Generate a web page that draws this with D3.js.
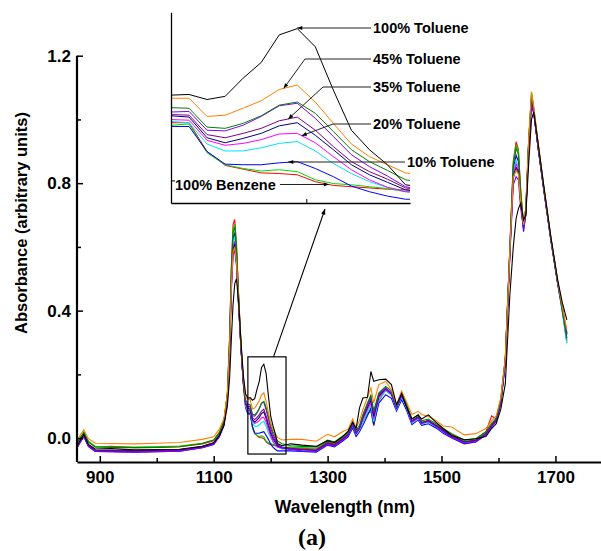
<!DOCTYPE html>
<html>
<head>
<meta charset="utf-8">
<script src="https://cdn.jsdelivr.net/npm/d3@7"></script>
<style>
body { margin: 0; background: #fff; }
svg text { font-family: "Liberation Sans", Arial, sans-serif; font-weight: bold; }
</style>
</head>
<body>
<div id="chart"></div>
<script>
// wavelengths (nm), shared by every spectrum
const wavelengths = [
    860, 866, 872, 880, 892, 920, 960, 1000, 1040, 1080,
    1100, 1110, 1118, 1124, 1128, 1131, 1134, 1137, 1140, 1144, 1148, 1152, 1156,
    1160, 1164, 1168, 1172, 1176, 1180, 1184, 1188, 1192, 1196, 1200, 1204, 1208, 1212,
    1220, 1235, 1255, 1280, 1300, 1312, 1326,
    1336, 1344, 1350, 1356, 1362, 1370, 1376, 1381, 1390, 1402, 1412, 1421, 1430, 1438, 1448, 1459, 1465, 1477, 1490, 1503, 1518,
    1540, 1560, 1578, 1588, 1596, 1604, 1612, 1620, 1626, 1631, 1635, 1639, 1644, 1648, 1653, 1658, 1662, 1670, 1680, 1692, 1704, 1712, 1720
];

// absorbance of each mixture
const benzene100 = [
    -0.018, 0.000, 0.016, -0.012, -0.028, -0.026, -0.030, -0.029, -0.027, -0.018,
    -0.008, 0.016, 0.052, 0.140, 0.320, 0.540, 0.670, 0.686, 0.610, 0.440, 0.290, 0.175, 0.105,
    0.082, 0.082, 0.036, 0.014, 0.008, 0.002, 0.001, -0.001, -0.012, -0.018, -0.020, -0.022, -0.024, -0.025,
    -0.030, -0.030, -0.032, -0.034, -0.012, -0.018, 0.000,
    0.015, 0.046, 0.018, 0.028, 0.052, 0.075, 0.085, 0.038, 0.118, 0.150, 0.135, 0.092, 0.138, 0.100, 0.050, 0.064, 0.046, 0.052, 0.040, 0.028, 0.012,
    -0.010, -0.004, 0.020, 0.070, 0.060, 0.120, 0.250, 0.600, 0.870, 0.930, 0.905, 0.780, 0.670, 0.720, 0.930, 1.075, 1.030, 0.915, 0.780, 0.628, 0.490, 0.410, 0.330
];
const toluene05 = [
    -0.016, 0.002, 0.018, -0.010, -0.026, -0.028, -0.028, -0.027, -0.025, -0.016,
    -0.006, 0.018, 0.054, 0.140, 0.315, 0.530, 0.655, 0.672, 0.600, 0.435, 0.288, 0.175, 0.105,
    0.078, 0.080, 0.034, 0.015, 0.009, 0.005, 0.007, 0.004, -0.009, -0.015, -0.017, -0.020, -0.023, -0.028,
    -0.030, -0.028, -0.030, -0.032, -0.010, -0.016, 0.002,
    0.017, 0.048, 0.020, 0.030, 0.054, 0.078, 0.088, 0.040, 0.120, 0.152, 0.138, 0.095, 0.142, 0.104, 0.054, 0.066, 0.048, 0.054, 0.040, 0.026, 0.010,
    -0.008, -0.004, 0.018, 0.044, 0.060, 0.118, 0.248, 0.598, 0.862, 0.920, 0.898, 0.775, 0.668, 0.720, 0.935, 1.087, 1.035, 0.918, 0.782, 0.628, 0.488, 0.400, 0.300
];
const toluene10 = [
    -0.030, -0.012, 0.004, -0.026, -0.042, -0.043, -0.044, -0.043, -0.041, -0.030,
    -0.020, 0.004, 0.040, 0.125, 0.300, 0.505, 0.628, 0.645, 0.578, 0.420, 0.280, 0.168, 0.095,
    0.076, 0.076, 0.036, 0.016, 0.015, 0.015, 0.018, 0.020, 0.009, -0.004, -0.019, -0.028, -0.035, -0.040,
    -0.040, -0.040, -0.042, -0.044, -0.022, -0.028, -0.010,
    0.004, 0.032, 0.005, 0.020, 0.040, 0.070, 0.095, 0.042, 0.110, 0.136, 0.125, 0.085, 0.120, 0.090, 0.042, 0.057, 0.040, 0.045, 0.032, 0.015, 0.000,
    -0.018, -0.012, 0.010, 0.036, 0.052, 0.110, 0.242, 0.590, 0.845, 0.888, 0.868, 0.750, 0.648, 0.700, 0.920, 1.060, 1.020, 0.905, 0.772, 0.620, 0.482, 0.400, 0.305
];
const toluene15 = [
    -0.026, -0.008, 0.008, -0.022, -0.038, -0.040, -0.040, -0.040, -0.038, -0.027,
    -0.016, 0.008, 0.044, 0.128, 0.298, 0.498, 0.615, 0.632, 0.568, 0.415, 0.280, 0.172, 0.100,
    0.084, 0.082, 0.048, 0.037, 0.037, 0.042, 0.049, 0.052, 0.037, 0.017, 0.001, -0.012, -0.021, -0.027,
    -0.034, -0.036, -0.038, -0.040, -0.018, -0.024, -0.006,
    0.008, 0.038, 0.012, 0.026, 0.052, 0.082, 0.102, 0.052, 0.122, 0.148, 0.134, 0.090, 0.128, 0.098, 0.048, 0.062, 0.045, 0.050, 0.036, 0.020, 0.004,
    -0.014, -0.010, 0.012, 0.038, 0.054, 0.112, 0.244, 0.590, 0.838, 0.870, 0.852, 0.740, 0.655, 0.705, 0.925, 1.065, 1.022, 0.906, 0.772, 0.620, 0.482, 0.396, 0.298
];
const toluene20 = [
    -0.026, -0.008, 0.010, -0.022, -0.038, -0.039, -0.040, -0.039, -0.037, -0.026,
    -0.015, 0.009, 0.045, 0.126, 0.292, 0.488, 0.600, 0.618, 0.560, 0.412, 0.280, 0.175, 0.105,
    0.087, 0.086, 0.054, 0.046, 0.049, 0.055, 0.064, 0.065, 0.050, 0.028, 0.007, -0.009, -0.021, -0.028,
    -0.032, -0.034, -0.036, -0.038, -0.016, -0.022, -0.004,
    0.010, 0.042, 0.016, 0.030, 0.060, 0.090, 0.110, 0.060, 0.128, 0.152, 0.138, 0.094, 0.132, 0.102, 0.052, 0.066, 0.048, 0.054, 0.040, 0.024, 0.008,
    -0.012, -0.008, 0.014, 0.040, 0.056, 0.114, 0.244, 0.588, 0.830, 0.860, 0.845, 0.740, 0.660, 0.708, 0.925, 1.060, 1.022, 0.906, 0.774, 0.622, 0.486, 0.404, 0.315
];
const toluene25 = [
    -0.028, -0.010, 0.008, -0.024, -0.039, -0.040, -0.040, -0.039, -0.037, -0.027,
    -0.016, 0.008, 0.044, 0.124, 0.286, 0.480, 0.592, 0.610, 0.555, 0.410, 0.280, 0.178, 0.108,
    0.093, 0.091, 0.058, 0.050, 0.057, 0.065, 0.077, 0.082, 0.062, 0.039, 0.015, -0.001, -0.013, -0.025,
    -0.030, -0.034, -0.036, -0.038, -0.016, -0.022, -0.004,
    0.010, 0.042, 0.016, 0.032, 0.064, 0.096, 0.118, 0.068, 0.132, 0.155, 0.140, 0.095, 0.134, 0.103, 0.053, 0.066, 0.048, 0.055, 0.040, 0.024, 0.006,
    -0.012, -0.008, 0.014, 0.040, 0.056, 0.112, 0.240, 0.582, 0.822, 0.850, 0.838, 0.738, 0.660, 0.708, 0.922, 1.055, 1.022, 0.908, 0.776, 0.624, 0.488, 0.408, 0.325
];
const toluene35 = [
    -0.027, -0.009, 0.009, -0.023, -0.039, -0.040, -0.041, -0.040, -0.038, -0.027,
    -0.016, 0.008, 0.044, 0.122, 0.280, 0.470, 0.582, 0.600, 0.548, 0.408, 0.280, 0.180, 0.110,
    0.095, 0.094, 0.063, 0.058, 0.065, 0.073, 0.085, 0.091, 0.070, 0.044, 0.020, 0.004, -0.008, -0.022,
    -0.028, -0.032, -0.035, -0.038, -0.015, -0.021, -0.003,
    0.012, 0.044, 0.018, 0.034, 0.068, 0.102, 0.125, 0.075, 0.136, 0.157, 0.142, 0.096, 0.136, 0.104, 0.054, 0.067, 0.049, 0.055, 0.040, 0.024, 0.006,
    -0.012, -0.008, 0.014, 0.040, 0.056, 0.112, 0.238, 0.578, 0.815, 0.845, 0.832, 0.735, 0.662, 0.708, 0.920, 1.050, 1.020, 0.906, 0.776, 0.624, 0.488, 0.410, 0.330
];
const toluene30 = [
    -0.030, -0.012, 0.006, -0.026, -0.042, -0.043, -0.044, -0.043, -0.041, -0.030,
    -0.019, 0.005, 0.041, 0.118, 0.272, 0.460, 0.572, 0.590, 0.540, 0.404, 0.280, 0.180, 0.112,
    0.099, 0.100, 0.070, 0.069, 0.078, 0.092, 0.109, 0.113, 0.089, 0.060, 0.031, 0.012, -0.003, -0.020,
    -0.030, -0.036, -0.040, -0.042, -0.020, -0.026, -0.008,
    0.008, 0.040, 0.014, 0.032, 0.068, 0.106, 0.130, 0.080, 0.138, 0.156, 0.140, 0.094, 0.134, 0.102, 0.050, 0.064, 0.046, 0.052, 0.036, 0.020, 0.002,
    -0.016, -0.012, 0.010, 0.036, 0.052, 0.108, 0.232, 0.570, 0.795, 0.820, 0.810, 0.722, 0.655, 0.700, 0.915, 1.045, 1.018, 0.904, 0.774, 0.622, 0.486, 0.408, 0.328
];
const toluene40 = [
    -0.016, 0.002, 0.019, -0.012, -0.028, -0.029, -0.030, -0.029, -0.027, -0.017,
    -0.006, 0.018, 0.054, 0.138, 0.312, 0.522, 0.645, 0.662, 0.595, 0.435, 0.292, 0.188, 0.120,
    0.106, 0.105, 0.075, 0.073, 0.081, 0.093, 0.110, 0.115, 0.097, 0.068, 0.039, 0.020, 0.006, -0.009,
    -0.018, -0.024, -0.026, -0.028, -0.006, -0.012, 0.006,
    0.018, 0.050, 0.024, 0.040, 0.074, 0.110, 0.135, 0.085, 0.142, 0.162, 0.148, 0.100, 0.145, 0.110, 0.060, 0.072, 0.054, 0.060, 0.045, 0.030, 0.014,
    -0.006, -0.002, 0.020, 0.046, 0.062, 0.120, 0.250, 0.596, 0.856, 0.910, 0.890, 0.770, 0.668, 0.720, 0.932, 1.080, 1.034, 0.916, 0.780, 0.626, 0.488, 0.404, 0.312
];
const toluene45 = [
    -0.008, 0.010, 0.026, -0.002, -0.016, -0.017, -0.018, -0.016, -0.014, -0.004,
    0.004, 0.028, 0.062, 0.140, 0.290, 0.475, 0.584, 0.600, 0.552, 0.418, 0.292, 0.192, 0.130,
    0.121, 0.121, 0.092, 0.094, 0.105, 0.117, 0.135, 0.142, 0.115, 0.081, 0.048, 0.028, 0.015, 0.002,
    -0.006, -0.004, -0.004, -0.010, 0.012, 0.004, 0.020,
    0.028, 0.060, 0.032, 0.055, 0.089, 0.128, 0.158, 0.111, 0.168, 0.178, 0.152, 0.105, 0.147, 0.116, 0.074, 0.084, 0.074, 0.068, 0.055, 0.038, 0.035,
    0.010, 0.014, 0.030, 0.054, 0.070, 0.126, 0.252, 0.590, 0.820, 0.840, 0.828, 0.740, 0.670, 0.722, 0.938, 1.087, 1.038, 0.920, 0.784, 0.630, 0.492, 0.414, 0.340
];
const toluene100 = [
    -0.024, -0.006, 0.012, -0.020, -0.034, -0.033, -0.037, -0.036, -0.035, -0.026,
    -0.015, 0.008, 0.040, 0.100, 0.190, 0.310, 0.420, 0.485, 0.500, 0.420, 0.300, 0.198, 0.138,
    0.126, 0.127, 0.119, 0.124, 0.153, 0.178, 0.222, 0.232, 0.203, 0.134, 0.070, 0.039, 0.015, -0.017,
    -0.024, -0.018, -0.022, -0.026, -0.008, -0.014, 0.004,
    0.022, 0.050, 0.030, 0.095, 0.126, 0.128, 0.209, 0.178, 0.183, 0.185, 0.168, 0.105, 0.140, 0.100, 0.060, 0.073, 0.060, 0.073, 0.050, 0.030, 0.008,
    -0.005, -0.002, 0.005, 0.030, 0.045, 0.090, 0.170, 0.450, 0.600, 0.690, 0.720, 0.737, 0.684, 0.700, 0.860, 1.000, 1.024, 0.920, 0.786, 0.632, 0.496, 0.426, 0.371
];

const seriesNames = ['100% Benzene', '5% Toluene', '10% Toluene', '15% Toluene', '20% Toluene', '25% Toluene',
    '35% Toluene', '30% Toluene', '40% Toluene', '45% Toluene', '100% Toluene'];
const seriesValues = [benzene100, toluene05, toluene10, toluene15, toluene20, toluene25,
    toluene35, toluene30, toluene40, toluene45, toluene100];
const seriesColors = ['#ff0000', '#00d800', '#0000ff', '#00e4f4', '#ff00ff', '#000080',
    '#800080', '#8000ff', '#008000', '#ff8000', '#000000'];

// axes
const xTicks = [900, 1100, 1300, 1500, 1700];
const xMinorTicks = [1000, 1200, 1400, 1600];
const yTicks = [0.0, 0.4, 0.8, 1.2];
const yMinorTicks = [0.2, 0.6, 1.0];

// zoomed region
const zoomWl = [1160, 1227];
const zoomAbs = [-0.05, 0.255];
const insetWl = [1160, 1213];
const insetAbs = [-0.046, 0.258];

// inset labels: which series and wavelength the arrow points to
const insetLabels = [
    {text: '100% Toluene', series: 10, at: 1188, lx: 373, ly: 28, elbow: null},
    {text: '45% Toluene', series: 9, at: 1185, lx: 373, ly: 59, elbow: 305},
    {text: '35% Toluene', series: 6, at: 1186, lx: 373, ly: 87, elbow: 323},
    {text: '20% Toluene', series: 4, at: 1189, lx: 373, ly: 124, elbow: 333},
    {text: '10% Toluene', series: 2, at: 1186, lx: 407, ly: 162, elbow: null},
];
const benzeneLabel = {text: '100% Benzene', series: 0, at: 1195, lx: 175, ly: 185};

// layout
const main = {left: 77, right: 601, top: 55.7, bottom: 462};
const inset = {left: 171, right: 410, top: 12.3, bottom: 203};

const svg = d3.select('#chart').append('svg')
    .attr('width', 601)
    .attr('height', 551);

const defs = svg.append('defs');
defs.append('marker')
    .attr('id', 'arrow')
    .attr('viewBox', '0 0 10 10')
    .attr('refX', 10)
    .attr('refY', 5)
    .attr('markerWidth', 6)
    .attr('markerHeight', 5)
    .attr('orient', 'auto')
    .append('path')
    .attr('d', 'M0,1L10,5L0,9z')
    .attr('fill', '#000');
defs.append('clipPath').attr('id', 'insetClip')
    .append('rect')
    .attr('x', inset.left)
    .attr('y', inset.top)
    .attr('width', inset.right - inset.left)
    .attr('height', inset.bottom - inset.top);

// scales
let x = d3.scaleLinear().domain([860, 1780]).range([main.left, main.right]);
let y = d3.scaleLinear().domain([-0.075, 1.2]).range([main.bottom, main.top]);
let ix = d3.scaleLinear().domain(insetWl).range([inset.left, inset.right]);
let iy = d3.scaleLinear().domain(insetAbs).range([inset.bottom, inset.top]);

// spectra
let mainLine = d3.line().x(d => x(d[0])).y(d => y(d[1]));
svg.append('g')
    .selectAll('path')
    .data(seriesValues)
    .enter()
    .append('path')
    .attr('d', v => mainLine(wavelengths.map((w, i) => [w, v[i]])))
    .attr('fill', 'none')
    .attr('stroke', (d, i) => seriesColors[i])
    .attr('stroke-width', 1.1);

// x axis
svg.append('g')
    .attr('transform', `translate(0,${main.bottom})`)
    .call(d3.axisBottom(x).tickValues(xTicks).tickFormat(d3.format('d')).tickSize(-6).tickSizeOuter(0).tickPadding(9))
    .call(g => g.select('.domain').attr('stroke-width', 2.2))
    .call(g => g.selectAll('.tick line').attr('stroke-width', 1.5))
    .call(g => g.selectAll('text').attr('font-size', 17).attr('fill', '#000'));
svg.append('g')
    .attr('transform', `translate(0,${main.bottom})`)
    .call(d3.axisBottom(x).tickValues(xMinorTicks).tickFormat('').tickSize(-4))
    .call(g => g.select('.domain').remove())
    .call(g => g.selectAll('.tick line').attr('stroke-width', 1.5));

// y axis
svg.append('g')
    .attr('transform', `translate(${main.left},0)`)
    .call(d3.axisLeft(y).tickValues(yTicks).tickFormat(d3.format('.1f')).tickSize(-6).tickSizeOuter(0).tickPadding(6))
    .call(g => g.select('.domain').attr('d', `M0,${y(1.2)}V${main.bottom}`).attr('stroke-width', 2.2))
    .call(g => g.selectAll('.tick line').attr('stroke-width', 1.5))
    .call(g => g.selectAll('text').attr('font-size', 17).attr('fill', '#000'));
svg.append('g')
    .attr('transform', `translate(${main.left},0)`)
    .call(d3.axisLeft(y).tickValues(yMinorTicks).tickFormat('').tickSize(-4))
    .call(g => g.select('.domain').remove())
    .call(g => g.selectAll('.tick line').attr('stroke-width', 1.5));

// axis titles
svg.append('text')
    .attr('transform', 'translate(21,223) rotate(-90)')
    .attr('text-anchor', 'middle')
    .attr('dy', '0.35em')
    .attr('font-size', 16.5)
    .text('Absorbance (arbitrary units)');
svg.append('text')
    .attr('x', 345)
    .attr('y', 513)
    .attr('text-anchor', 'middle')
    .attr('font-size', 17.5)
    .text('Wavelength (nm)');
svg.append('text')
    .attr('x', 312)
    .attr('y', 545)
    .attr('text-anchor', 'middle')
    .attr('font-size', 24)
    .style('font-family', '"Liberation Serif", "Times New Roman", serif')
    .text('(a)');

// zoom box and arrow to inset
svg.append('rect')
    .attr('x', x(zoomWl[0]))
    .attr('y', y(zoomAbs[1]))
    .attr('width', x(zoomWl[1]) - x(zoomWl[0]))
    .attr('height', y(zoomAbs[0]) - y(zoomAbs[1]))
    .attr('fill', 'none')
    .attr('stroke', '#000')
    .attr('stroke-width', 1.2);
svg.append('line')
    .attr('x1', x(1205))
    .attr('y1', y(zoomAbs[1]))
    .attr('x2', 325)
    .attr('y2', 209)
    .attr('stroke', '#000')
    .attr('stroke-width', 1.1)
    .attr('marker-end', 'url(#arrow)');

// inset
let insetLine = d3.line().x(d => ix(d[0])).y(d => iy(d[1]));
svg.append('g')
    .attr('clip-path', 'url(#insetClip)')
    .selectAll('path')
    .data(seriesValues)
    .enter()
    .append('path')
    .attr('d', v => insetLine(wavelengths.map((w, i) => [w, v[i]]).filter(d => d[0] >= 1156 && d[0] <= 1220)))
    .attr('fill', 'none')
    .attr('stroke', (d, i) => seriesColors[i])
    .attr('stroke-width', 1);

svg.append('g')
    .attr('transform', `translate(0,${inset.bottom})`)
    .call(d3.axisBottom(ix).tickValues([1190]).tickFormat('').tickSize(-4).tickSizeOuter(0))
    .call(g => g.select('.domain').attr('stroke-width', 1.3));
svg.append('g')
    .attr('transform', `translate(${inset.left},0)`)
    .call(d3.axisLeft(iy).tickValues([-0.01]).tickFormat('').tickSize(-4).tickSizeOuter(0))
    .call(g => g.select('.domain').attr('stroke-width', 1.3));

function valueAt(values, wl) {
    let i = d3.bisectRight(wavelengths, wl) - 1;
    let t = (wl - wavelengths[i]) / (wavelengths[i + 1] - wavelengths[i]);
    return values[i] + t * (values[i + 1] - values[i]);
}

let labelG = svg.append('g');
insetLabels.forEach(function(lab) {
    let tx = ix(lab.at);
    let ty = iy(valueAt(seriesValues[lab.series], lab.at));
    let pts = [[lab.lx - 2, lab.ly]];
    if (lab.elbow !== null) pts.push([lab.elbow, lab.ly]);
    pts.push([tx, lab.elbow === null ? lab.ly : ty]);
    labelG.append('path')
        .attr('d', d3.line()(pts))
        .attr('fill', 'none')
        .attr('stroke', '#222')
        .attr('stroke-width', 1)
        .attr('marker-end', 'url(#arrow)');
    labelG.append('text')
        .attr('x', lab.lx)
        .attr('y', lab.ly)
        .attr('dy', '0.35em')
        .attr('font-size', 14.5)
        .text(lab.text);
});

// benzene label points right to its curve
let bx = ix(benzeneLabel.at);
let by = iy(valueAt(seriesValues[benzeneLabel.series], benzeneLabel.at));
labelG.append('text')
    .attr('x', benzeneLabel.lx)
    .attr('y', benzeneLabel.ly)
    .attr('dy', '0.35em')
    .attr('font-size', 14.5)
    .text(benzeneLabel.text);
labelG.append('line')
    .attr('x1', 280)
    .attr('y1', by)
    .attr('x2', bx)
    .attr('y2', by)
    .attr('stroke', '#222')
    .attr('stroke-width', 1)
    .attr('marker-end', 'url(#arrow)');
</script>
</body>
</html>
